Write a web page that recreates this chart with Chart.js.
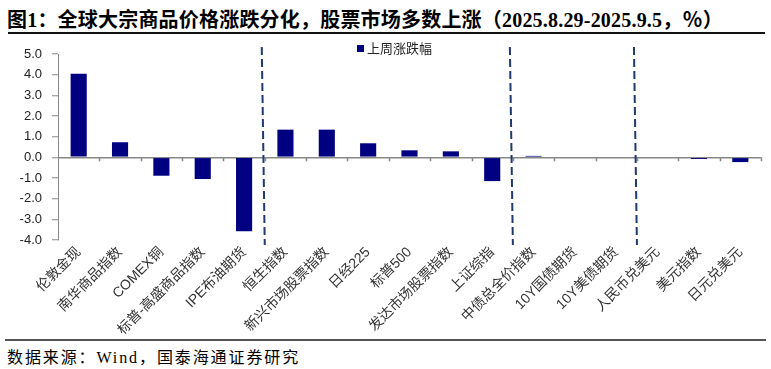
<!DOCTYPE html>
<html>
<head>
<meta charset="utf-8">
<script src="https://cdn.jsdelivr.net/npm/chart.js@4"></script>
<style>
	body { margin: 0; background: #fff; }
	#wrap { position: relative; width: 771px; height: 369px; overflow: hidden; }
	#title { position: absolute; left: 7px; top: 4px; font: bold 20px "Liberation Serif", "Noto Sans CJK SC", serif; letter-spacing: 0.2px; color: #000; white-space: nowrap; }
	#rule1 { position: absolute; left: 8px; top: 32px; width: 757px; height: 2px; background: #111; }
	#rule2 { position: absolute; left: 5px; top: 339px; width: 761px; height: 2px; background: #555; }
	#source { position: absolute; left: 7px; top: 344px; font: 16px "Liberation Serif", "Noto Sans CJK SC", serif; letter-spacing: 1.9px; color: #000; white-space: nowrap; }
	#legend { position: absolute; left: 357px; top: 38px; font: 13px "Noto Sans CJK SC", sans-serif; color: #222; white-space: nowrap; }
	#legend i { display: inline-block; width: 7px; height: 7px; background: #000080; margin-right: 3px; vertical-align: 1px; }
	#chart { position: absolute; left: 0; top: 36px; }
</style>
</head>
<body>
<div id="wrap">
	<div id="title">图1：全球大宗商品价格涨跌分化，股票市场多数上涨（2025.8.29-2025.9.5，％）</div>
	<div id="rule1"></div>
	<canvas id="chart" width="771" height="304"></canvas>
	<div id="legend"><i></i>上周涨跌幅</div>
	<div id="rule2"></div>
	<div id="source">数据来源：Wind，国泰海通证券研究</div>
</div>
<script>
let labels = ['伦敦金现', '南华商品指数', 'COMEX铜', '标普-高盛商品指数', 'IPE布油期货', '恒生指数', '新兴市场股票指数', '日经225', '标普500', '发达市场股票指数', '上证综指', '中债总全价指数', '10Y国债期货', '10Y美债期货', '人民币兑美元', '美元指数', '日元兑美元'];
let weekChange = [4.05, 0.73, -0.89, -1.05, -3.58, 1.34, 1.34, 0.68, 0.34, 0.29, -1.15, 0.07, 0, 0, 0, -0.08, -0.23];
let yTicks = [5, 4, 3, 2, 1, 0, -1, -2, -3, -4];
// group separators sit between these category indexes
let separators = [4.5, 10.5, 13.5];

let axisColor = '#888';

let decorations = {
	id: 'decorations',
	afterDatasetsDraw(chart) {
		let ctx = chart.ctx;
		let x = chart.scales.x;
		let y = chart.scales.y;
		let zero = y.getPixelForValue(0);
		ctx.save();
		// small tick marks hanging under the zero line
		ctx.strokeStyle = axisColor;
		ctx.lineWidth = 1.5;
		for(let i = 1; i <= labels.length; i++){
			let px = Math.round(x.getPixelForValue(i - 0.5)) + 0.5;
			ctx.beginPath();
			ctx.moveTo(px, zero);
			ctx.lineTo(px, zero + 4);
			ctx.stroke();
		}
		// dashed group separators
		ctx.strokeStyle = '#1f3a6e';
		ctx.lineWidth = 2;
		ctx.setLineDash([8, 4]);
		separators.forEach(s => {
			let px = x.getPixelForValue(s);
			ctx.beginPath();
			ctx.moveTo(px - 3, chart.chartArea.top - 7);
			ctx.lineTo(px, chart.chartArea.bottom + 5);
			ctx.stroke();
		});
		ctx.restore();
	}
};

new Chart(document.querySelector('#chart'), {
	type: 'bar',
	data: {
		labels: labels,
		datasets: [
			{
				label: '上周涨跌幅',
				data: weekChange,
				backgroundColor: '#000080',
				borderWidth: 0,
				barPercentage: 0.39,
				categoryPercentage: 1
			}
		]
	},
	options: {
		responsive: false,
		animation: false,
		layout: {
			padding: {left: 18, right: 10, top: 18, bottom: 0}
		},
		plugins: {
			legend: {display: false},
			tooltip: {enabled: false}
		},
		scales: {
			x: {
				grid: {display: false, drawTicks: false},
				border: {display: false},
				ticks: {
					autoSkip: false,
					minRotation: 45,
					maxRotation: 45,
					padding: 4,
					color: '#333',
					font: {family: '"Liberation Sans", "Noto Sans CJK SC", sans-serif', size: 14}
				},
				afterFit: (s) => { s.height = 100; }
			},
			y: {
				min: -4,
				max: 5,
				afterBuildTicks: (s) => { s.ticks = yTicks.map(v => ({value: v})); },
				grid: {
					drawOnChartArea: true,
					color: (c) => c.tick && c.tick.value === 0 ? axisColor : 'transparent',
					lineWidth: 1.5,
					tickColor: axisColor,
					tickWidth: 1,
					tickLength: 6
				},
				border: {display: true, color: axisColor, width: 1},
				ticks: {
					padding: 10,
					color: '#222',
					font: {family: '"Liberation Sans", Arial, sans-serif', size: 13},
					callback: (v) => v.toFixed(1)
				},
				afterFit: (s) => { s.width = 40; }
			}
		}
	},
	plugins: [decorations]
});
</script>
</body>
</html>
